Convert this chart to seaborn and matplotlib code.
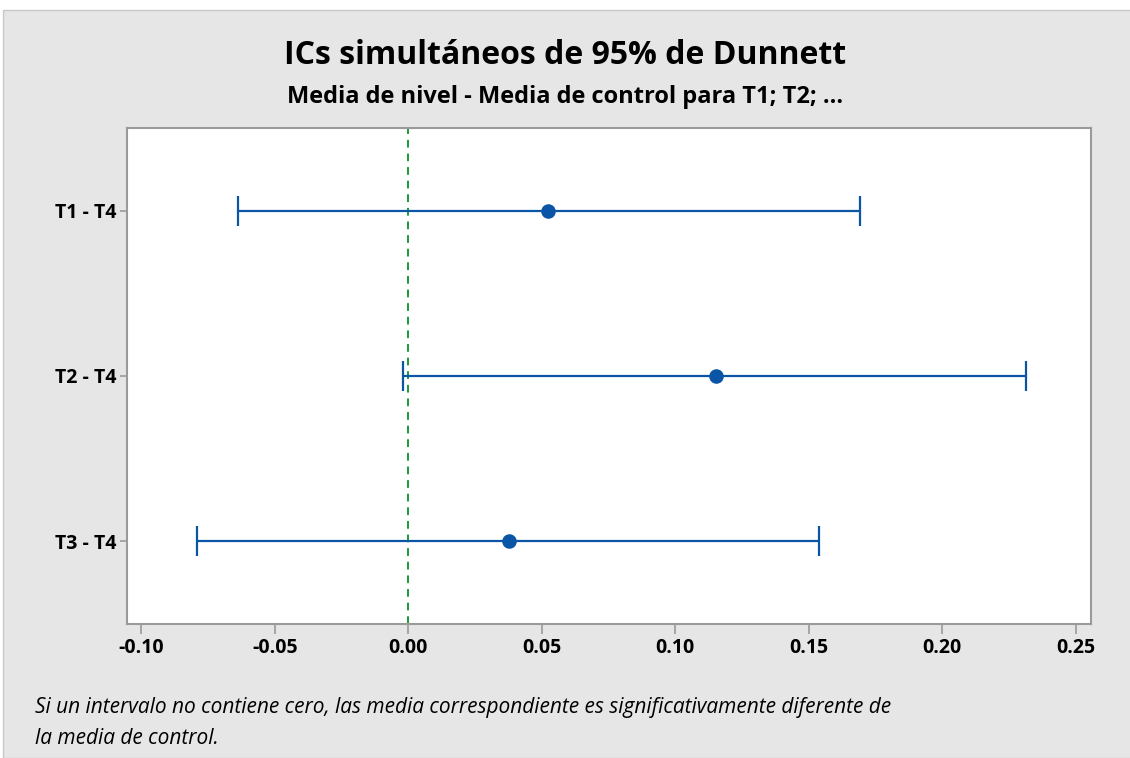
import matplotlib
matplotlib.use("Agg")
import matplotlib.pyplot as plt
import seaborn as sns
import pandas as pd

# Dunnett comparisons (level mean - control mean)
comparisons = ["T1 - T4", "T2 - T4", "T3 - T4"]
centers = [0.0523, 0.1153, 0.0376]
lower = [-0.0637, -0.0018, -0.0790]
upper = [0.1693, 0.2316, 0.1540]
x_ticks = [-0.10, -0.05, 0.00, 0.05, 0.10, 0.15, 0.20, 0.25]

df = pd.DataFrame({"comp": comparisons, "center": centers,
                   "lower": lower, "upper": upper})

sns.set_style("white")
plt.rcParams["font.family"] = ["Open Sans", "DejaVu Sans"]
plt.rcParams["text.color"] = "black"

blue = "#0B55A6"
bg = "#E6E6E6"

fig = plt.figure(figsize=(11.3, 7.58), dpi=100, facecolor="white")
# gray panel like the Minitab graph window
fig.patches.append(plt.Rectangle((3 / 1130, 0), 1, 1 - 10 / 758,
                                 transform=fig.transFigure, facecolor=bg,
                                 edgecolor="#C8C8C8", lw=1, zorder=-1))
ax = fig.add_axes([127 / 1130, 1 - 624 / 758, (1091 - 127) / 1130, (624 - 128) / 758])
ax.set_facecolor("white")

ypos = list(range(len(df)))
ax.errorbar(df["center"], ypos,
            xerr=[df["center"] - df["lower"], df["upper"] - df["center"]],
            fmt="none", ecolor=blue, elinewidth=1.6, capsize=11, capthick=1.6,
            zorder=2)
sns.scatterplot(data=df, x="center", y=ypos, ax=ax, color=blue, s=110,
                edgecolor=blue, linewidth=0, zorder=3)

ax.axvline(0, color="#1A9A3A", ls=(0, (4, 3)), lw=1.4, zorder=1)

ax.set_ylim(2.5, -0.5)
ax.set_yticks(ypos)
ax.set_yticklabels(df["comp"])
ax.set_xlim(-0.1054, 0.2558)
ax.set_xticks(x_ticks)
ax.set_xticklabels([f"{v:.2f}" for v in x_ticks])
ax.set_xlabel("")
ax.set_ylabel("")

for s in ax.spines.values():
    s.set_color("#9A9A9A")
    s.set_linewidth(1.5)
ax.tick_params(axis="x", direction="out", length=7, width=1.2, color="#9A9A9A",
               labelsize=14, pad=3, bottom=True, labelcolor="black")
ax.tick_params(axis="y", direction="out", length=5, width=1.2, color="#9A9A9A",
               labelsize=14, pad=3, left=True, labelcolor="black")
for lab in ax.get_xticklabels() + ax.get_yticklabels():
    lab.set_fontweight("bold")

fig.text(0.5, 1 - 55 / 758, "ICs simultáneos de 95% de Dunnett", ha="center",
         va="center", fontsize=23, fontweight="bold")
fig.text(0.5, 1 - 97 / 758, "Media de nivel - Media de control para T1; T2; ...",
         ha="center", va="center", fontsize=17, fontweight="bold")
fig.text(35 / 1130, 1 - 707 / 758,
         "Si un intervalo no contiene cero, las media correspondiente es significativamente diferente de",
         ha="left", va="center", fontsize=15, style="italic")
fig.text(35 / 1130, 1 - 739 / 758, "la media de control.",
         ha="left", va="center", fontsize=15, style="italic")

fig.savefig("out.png", dpi=100, facecolor=fig.get_facecolor())
